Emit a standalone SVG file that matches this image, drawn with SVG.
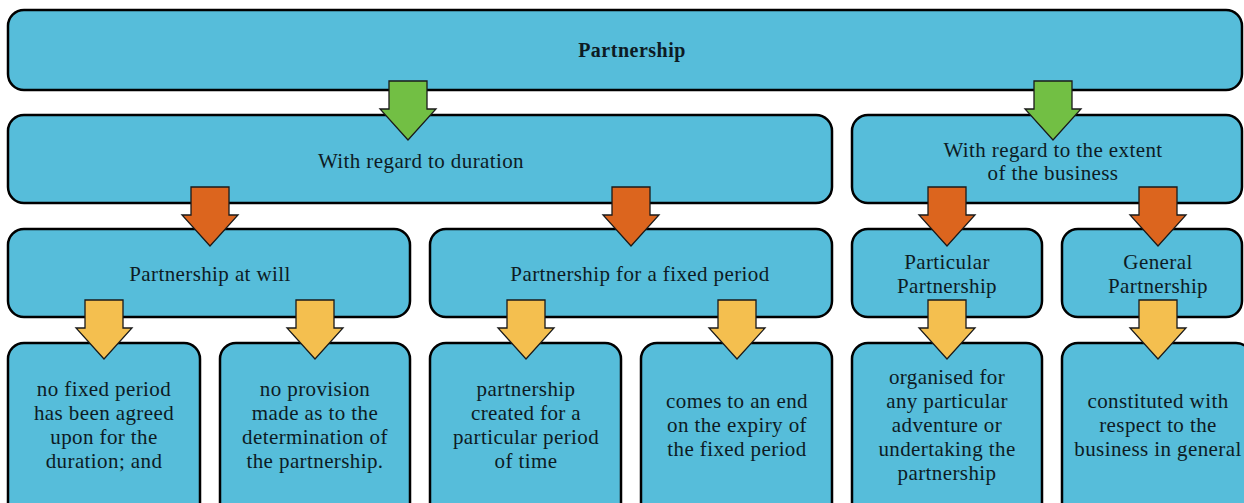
<svg xmlns="http://www.w3.org/2000/svg" width="1244" height="503" viewBox="0 0 1244 503">
<defs>
<style>
.box{fill:#56bdda;stroke:#000;stroke-width:2.5}
.t{font-family:"Liberation Serif",serif;font-size:21px;letter-spacing:0.4px;fill:#0d1b24;text-anchor:middle}
.b{font-weight:bold;font-size:20px;letter-spacing:0.5px}
.g{fill:#72bf44;stroke:#1a1a1a;stroke-width:1.3}
.o{fill:#dc651e;stroke:#1a1a1a;stroke-width:1.3}
.y{fill:#f4bf4f;stroke:#1a1a1a;stroke-width:1.3}
</style>
<path id="arr" d="M-19,0 H19 V28 H28 L0,59 L-28,28 H-19 Z"/>
</defs>
<rect width="1244" height="503" fill="#fff"/>
<g id="n-partnership"><rect class="box" x="8" y="10" width="1234" height="80" rx="16"/><text class="t b" x="632" y="57">Partnership</text></g>
<g id="n-duration"><rect class="box" x="8" y="115" width="824" height="88" rx="16"/><text class="t" x="421" y="168">With regard to duration</text></g>
<g id="n-extent"><rect class="box" x="852" y="115" width="390" height="88" rx="16"/><text class="t" x="1053" y="157">With regard to the extent</text><text class="t" x="1053" y="180">of the business</text></g>
<g id="n-atwill"><rect class="box" x="8" y="229" width="402" height="88" rx="16"/><text class="t" x="210" y="281">Partnership at will</text></g>
<g id="n-fixed"><rect class="box" x="430" y="229" width="402" height="88" rx="16"/><text class="t" x="640" y="281">Partnership for a fixed period</text></g>
<g id="n-particular"><rect class="box" x="852" y="229" width="190" height="88" rx="16"/><text class="t" x="947" y="269">Particular</text><text class="t" x="947" y="293">Partnership</text></g>
<g id="n-general"><rect class="box" x="1062" y="229" width="180" height="88" rx="16"/><text class="t" x="1158" y="269">General</text><text class="t" x="1158" y="293">Partnership</text></g>
<g id="n-d1"><rect class="box" x="8" y="343" width="192" height="180" rx="16"/><text class="t" x="104" y="396">no fixed period</text><text class="t" x="104" y="420">has been agreed</text><text class="t" x="104" y="444">upon for the</text><text class="t" x="104" y="468">duration; and</text></g>
<g id="n-d2"><rect class="box" x="220" y="343" width="190" height="180" rx="16"/><text class="t" x="315" y="396">no provision</text><text class="t" x="315" y="420">made as to the</text><text class="t" x="315" y="444">determination of</text><text class="t" x="315" y="468">the partnership.</text></g>
<g id="n-d3"><rect class="box" x="430" y="343" width="191" height="180" rx="16"/><text class="t" x="526" y="396">partnership</text><text class="t" x="526" y="420">created for a</text><text class="t" x="526" y="444">particular period</text><text class="t" x="526" y="468">of time</text></g>
<g id="n-d4"><rect class="box" x="641" y="343" width="191" height="180" rx="16"/><text class="t" x="737" y="408">comes to an end</text><text class="t" x="737" y="432">on the expiry of</text><text class="t" x="737" y="456">the fixed period</text></g>
<g id="n-d5"><rect class="box" x="852" y="343" width="190" height="180" rx="16"/><text class="t" x="947" y="384">organised for</text><text class="t" x="947" y="408">any particular</text><text class="t" x="947" y="432">adventure or</text><text class="t" x="947" y="456">undertaking the</text><text class="t" x="947" y="480">partnership</text></g>
<g id="n-d6"><rect class="box" x="1062" y="343" width="190" height="180" rx="16"/><text class="t" x="1158" y="408">constituted with</text><text class="t" x="1158" y="432">respect to the</text><text class="t" x="1158" y="456">business in general</text></g>
<g id="connectors">
<use href="#arr" class="g" x="408" y="81"/>
<use href="#arr" class="g" x="1053" y="81"/>
<use href="#arr" class="o" x="210" y="187"/>
<use href="#arr" class="o" x="631" y="187"/>
<use href="#arr" class="o" x="947" y="187"/>
<use href="#arr" class="o" x="1158" y="187"/>
<use href="#arr" class="y" x="104" y="300"/>
<use href="#arr" class="y" x="315" y="300"/>
<use href="#arr" class="y" x="526" y="300"/>
<use href="#arr" class="y" x="737" y="300"/>
<use href="#arr" class="y" x="947" y="300"/>
<use href="#arr" class="y" x="1158" y="300"/>
</g>
</svg>
